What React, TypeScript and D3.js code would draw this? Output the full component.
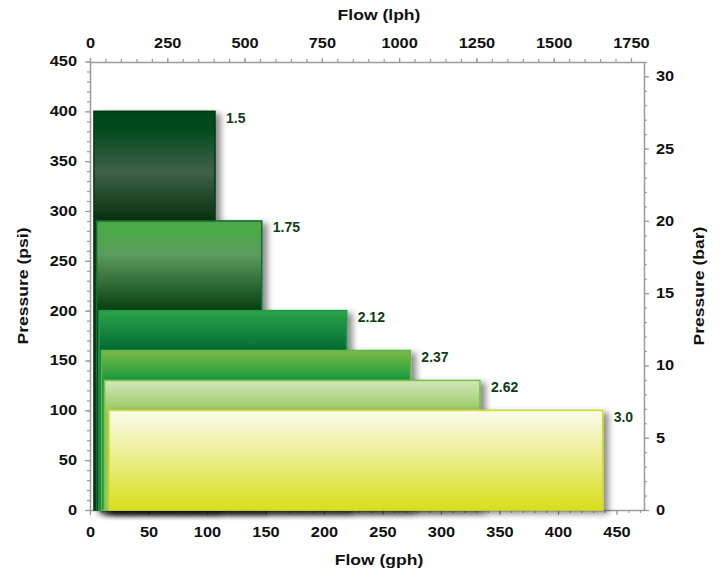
import React, { useEffect, useRef } from "react";
import { select, scaleLinear, axisBottom, axisLeft, axisTop, axisRight, range } from "d3";

// nozzle sizes with their flow span (gph) and pressure (psi)
const gauges = ["1.5", "1.75", "2.12", "2.37", "2.62", "3.0"];
const flowStartGph = [3.4, 5.6, 7.7, 9.8, 12.4, 16.2];
const flowEndGph = [106.8, 146.8, 219.4, 273.8, 333.3, 438.2];
const pressurePsi = [400, 290, 200, 160, 130, 100];

// tick labels
const gphTicks = [0, 50, 100, 150, 200, 250, 300, 350, 400, 450];
const lphTicks = [0, 250, 500, 750, 1000, 1250, 1500, 1750];
const psiTicks = [0, 50, 100, 150, 200, 250, 300, 350, 400, 450];
const barTicks = [0, 5, 10, 15, 20, 25, 30];

const GPH_MAX = 473.5;
const PSI_MAX = 450;
const LPH_PER_GPH = 3.785;
const PSI_PER_BAR = 14.5038;

// styling
const barStops: [number, string][][] = [
  [[0, "#00441a"], [0.15, "#004a1c"], [0.55, "#3f6148"], [1, "#07300c"]],
  [[0, "#4baa45"], [0.12, "#4ba846"], [0.38, "#5a9b5e"], [1, "#063f0f"]],
  [[0, "#2da34b"], [1, "#006a33"]],
  [[0, "#7dba45"], [1, "#159a3e"]],
  [[0, "#d3e8ba"], [1, "#99c965"]],
  [[0, "#fbfbf0"], [1, "#d8df1b"]],
];
const barStrokes = ["#063a10", "#176c37", "#209b4a", "#5db649", "#7cc24a", "#cfdc26"];

const W = 722;
const H = 571;
const FONT = "'Liberation Sans', Arial, sans-serif";
const AXIS_GRAY = "#9a9a9a";
const STRETCH = 1.17;

const left = 90;
const right = 644;
const top = 62;
const bottom = 510;

const x = scaleLinear().domain([0, GPH_MAX]).range([left, right]);
const xTop = scaleLinear().domain([0, GPH_MAX * LPH_PER_GPH]).range([left, right]);
const y = scaleLinear().domain([0, PSI_MAX]).range([bottom, top - 0.5]);
const yRight = scaleLinear().domain([0, PSI_MAX / PSI_PER_BAR]).range([bottom, top - 0.5]);

const plain = (d: any) => String(d);

export default function App() {
  const axesRef = useRef<SVGGElement>(null);

  useEffect(() => {
    const g = select(axesRef.current!);
    g.selectAll("*").remove();

    const styleAxis = (sel: any, major: boolean) => {
      sel.select(".domain").attr("stroke", AXIS_GRAY).attr("stroke-width", 1.5);
      if (major) sel.select(".domain").remove();
      sel.selectAll(".tick line").attr("stroke", AXIS_GRAY).attr("stroke-width", 1.2);
      sel
        .attr("font-family", FONT)
        .attr("font-size", 14)
        .attr("font-weight", "bold")
        .attr("color", "#111");
      // widen the labels like the original
      sel.selectAll(".tick text").each(function (this: SVGTextElement) {
        const t = select(this);
        const tx = +(t.attr("x") || 0);
        t.attr("x", 0).attr("transform", `translate(${tx},0) scale(${STRETCH},1)`);
      });
    };

    // minor ticks (draw the axis lines)
    g.append("g")
      .attr("transform", `translate(0,${bottom})`)
      .call(axisBottom(x).tickValues(range(0, GPH_MAX, 10)).tickSize(3).tickSizeOuter(0).tickFormat(() => ""))
      .call((s) => styleAxis(s, false));
    g.append("g")
      .attr("transform", `translate(0,${top})`)
      .call(axisTop(xTop).tickValues(range(0, GPH_MAX * LPH_PER_GPH, 50)).tickSize(3).tickSizeOuter(0).tickFormat(() => ""))
      .call((s) => styleAxis(s, false));
    g.append("g")
      .attr("transform", `translate(${left},0)`)
      .call(axisLeft(y).tickValues(range(0, PSI_MAX + 1, 10)).tickSize(3).tickSizeOuter(0).tickFormat(() => ""))
      .call((s) => styleAxis(s, false));
    g.append("g")
      .attr("transform", `translate(${right},0)`)
      .call(axisRight(yRight).tickValues(range(0, PSI_MAX / PSI_PER_BAR, 1)).tickSize(3).tickSizeOuter(0).tickFormat(() => ""))
      .call((s) => styleAxis(s, false));

    // major ticks + labels
    g.append("g")
      .attr("transform", `translate(0,${bottom})`)
      .call(axisBottom(x).tickValues(gphTicks).tickSize(5).tickPadding(12).tickSizeOuter(0).tickFormat(plain))
      .call((s) => styleAxis(s, true));
    g.append("g")
      .attr("transform", `translate(0,${top})`)
      .call(axisTop(xTop).tickValues(lphTicks).tickSize(4).tickPadding(10).tickSizeOuter(0).tickFormat(plain))
      .call((s) => styleAxis(s, true));
    g.append("g")
      .attr("transform", `translate(${left},0)`)
      .call(axisLeft(y).tickValues(psiTicks).tickSize(5).tickPadding(8).tickSizeOuter(0).tickFormat(plain))
      .call((s) => styleAxis(s, true));
    g.append("g")
      .attr("transform", `translate(${right},0)`)
      .call(axisRight(yRight).tickValues(barTicks).tickSize(5).tickPadding(7).tickSizeOuter(0).tickFormat(plain))
      .call((s) => styleAxis(s, true));
  }, []);

  const midX = 379;
  const midY = (top + bottom) / 2;

  return (
    <div style={{ position: "absolute", left: 0, top: 0 }}>
      <svg width={W} height={H} style={{ display: "block", background: "#fff" }}>
        <defs>
          <filter id="barShadow" x="-10%" y="-10%" width="130%" height="130%">
            <feDropShadow dx={5} dy={3} stdDeviation={3.2} floodColor="#000" floodOpacity={0.45} />
          </filter>
          {barStops.map((stops, i) => {
            // the gradient spans only the part of the bar left uncovered by the next one
            const gTop = y(pressurePsi[i]);
            const gBottom = i + 1 < pressurePsi.length ? y(pressurePsi[i + 1]) : y(0);
            return (
              <linearGradient
                key={i}
                id={`barGrad${i}`}
                gradientUnits="userSpaceOnUse"
                x1="0"
                y1={gTop}
                x2="0"
                y2={gBottom}
              >
                {stops.map(([o, c], j) => (
                  <stop key={j} offset={o} stopColor={c} />
                ))}
              </linearGradient>
            );
          })}
        </defs>

        <g ref={axesRef} />

        {gauges.map((name, i) => {
          const x0 = x(flowStartGph[i]);
          const x1 = x(flowEndGph[i]);
          const y0 = y(pressurePsi[i]);
          return (
            <g key={name}>
              <rect
                x={x0}
                y={y0}
                width={x1 - x0}
                height={y(0) - y0}
                fill={`url(#barGrad${i})`}
                stroke={barStrokes[i]}
                strokeWidth={1.6}
                filter="url(#barShadow)"
              />
              <text
                x={x1 + 11}
                y={y0 + 11.5}
                fontFamily={FONT}
                fontSize={14}
                fontWeight="bold"
                fill="#0f3d14"
              >
                {name}
              </text>
            </g>
          );
        })}

        <g fontFamily={FONT} fontSize={15} fontWeight="bold" fill="#111" textAnchor="middle">
          <text transform={`translate(${midX},20) scale(${STRETCH},1)`}>Flow (lph)</text>
          <text transform={`translate(${midX},565) scale(${STRETCH},1)`}>Flow (gph)</text>
          <text transform={`translate(28,${midY}) rotate(-90) scale(${STRETCH},1)`}>Pressure (psi)</text>
          <text transform={`translate(704,${midY}) rotate(-90) scale(${STRETCH},1)`}>Pressure (bar)</text>
        </g>
      </svg>
    </div>
  );
}
